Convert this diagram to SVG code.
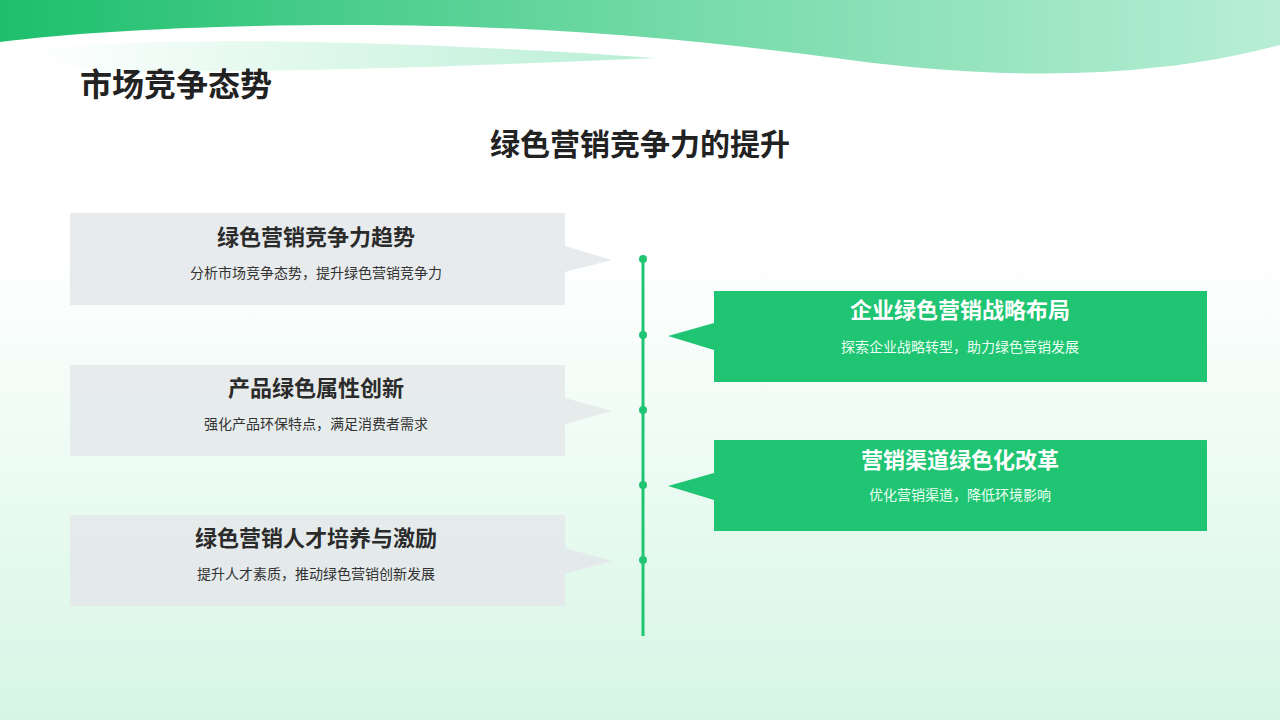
<svg xmlns="http://www.w3.org/2000/svg" width="1280" height="720" viewBox="0 0 1280 720">
<defs>
<linearGradient id="bg" x1="0" y1="0" x2="0" y2="1"><stop offset="0.35" stop-color="#ffffff"/><stop offset="1" stop-color="#d6f6e5"/></linearGradient>
<linearGradient id="wave" x1="0" y1="0" x2="1" y2="0"><stop offset="0" stop-color="#1dbf6c"/><stop offset="0.5" stop-color="#70d9a6"/><stop offset="1" stop-color="#b8eed5"/></linearGradient>
<linearGradient id="sw" x1="0" y1="0" x2="1" y2="0"><stop offset="0" stop-color="#ffffff"/><stop offset="1" stop-color="#b9efd5"/></linearGradient>
<style>
.lb{fill:#e4e7ea;opacity:0.85}
.rb{fill:#1fc572}
.t{font-family:"Noto Sans CJK SC","Noto Sans",sans-serif;text-anchor:middle}
.h{font-size:22px;font-weight:bold}
.s{font-size:14px}
</style>
</defs>
<rect width="1280" height="720" fill="url(#bg)"/>
<path d="M0 0 H1280 V45 C1150 80 1000 80 850 60 C700 40 550 25 350 25 C200 25 80 32 0 42 Z" fill="url(#wave)"/>
<path d="M30 50 C150 35 400 40 655 58 C500 65 300 72 120 72 C80 70 50 62 30 50 Z" fill="url(#sw)"/>
<text x="80" y="96" font-family="Noto Sans CJK SC,sans-serif" font-size="32" font-weight="bold" fill="#222">市场竞争态势</text>
<text class="t" x="640" y="155" font-size="30" font-weight="bold" fill="#222">绿色营销竞争力的提升</text>
<g id="connectors">
<line x1="643" y1="259" x2="643" y2="636" stroke="#1fc572" stroke-width="3"/>
<g fill="#1fc572"><circle cx="643" cy="259" r="4"/><circle cx="643" cy="335" r="4"/><circle cx="643" cy="410" r="4"/><circle cx="643" cy="485" r="4"/><circle cx="643" cy="560" r="4"/></g>
</g>
<g id="n1"><rect class="lb" x="70" y="213" width="495" height="92"/><path class="lb" d="M565 246 L612 260 L565 272 Z"/>
<text class="t h" x="316" y="245" fill="#2b2b2b">绿色营销竞争力趋势</text><text class="t s" x="316" y="278" fill="#333">分析市场竞争态势，提升绿色营销竞争力</text></g>
<g id="n2"><rect class="lb" x="70" y="365" width="495" height="91"/><path class="lb" d="M565 398 L612 411 L565 424 Z"/>
<text class="t h" x="316" y="396" fill="#2b2b2b">产品绿色属性创新</text><text class="t s" x="316" y="429" fill="#333">强化产品环保特点，满足消费者需求</text></g>
<g id="n3"><rect class="lb" x="70" y="515" width="495" height="91"/><path class="lb" d="M565 548 L612 561 L565 574 Z"/>
<text class="t h" x="316" y="546" fill="#2b2b2b">绿色营销人才培养与激励</text><text class="t s" x="316" y="579" fill="#333">提升人才素质，推动绿色营销创新发展</text></g>
<g id="n4"><rect class="rb" x="714" y="291" width="493" height="91"/><path class="rb" d="M714 323 L668 336 L714 350 Z"/>
<text class="t h" x="960" y="318" fill="#fff">企业绿色营销战略布局</text><text class="t s" x="960" y="352" fill="#eafff3">探索企业战略转型，助力绿色营销发展</text></g>
<g id="n5"><rect class="rb" x="714" y="440" width="493" height="91"/><path class="rb" d="M714 473 L668 486 L714 500 Z"/>
<text class="t h" x="960" y="468" fill="#fff">营销渠道绿色化改革</text><text class="t s" x="960" y="500" fill="#eafff3">优化营销渠道，降低环境影响</text></g>
</svg>
